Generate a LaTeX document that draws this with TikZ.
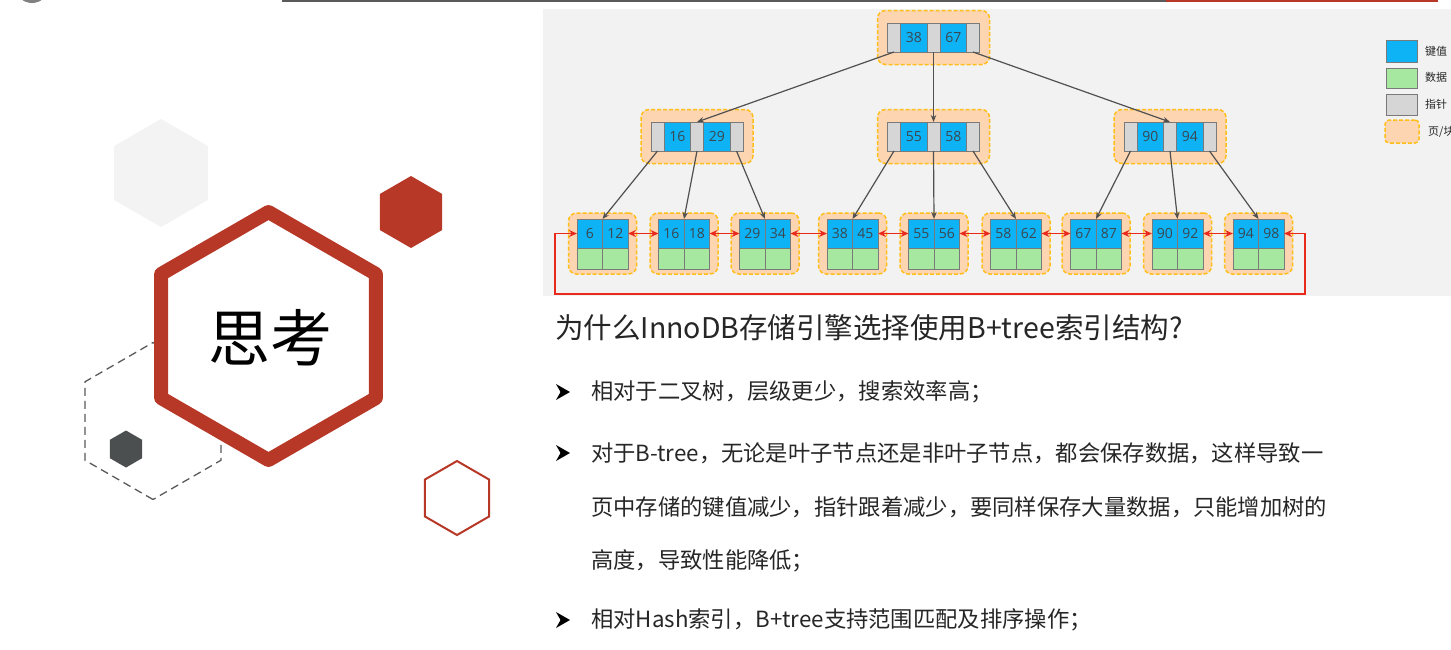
\documentclass[tikz,border=0pt]{standalone}
\usepackage{fontspec}
\setmainfont{Noto Sans CJK SC}
\newfontfamily\numfont{Open Sans}
\usetikzlibrary{arrows.meta}
\definecolor{keyblue}{HTML}{0DB3F4}
\definecolor{datagreen}{HTML}{A6E8A0}
\definecolor{ptrgray}{HTML}{D6D6D6}
\definecolor{cellline}{HTML}{7A7A7A}
\definecolor{pagefill}{HTML}{FDD5B1}
\definecolor{pageline}{HTML}{FFBE1A}
\definecolor{panelbg}{HTML}{F2F2F2}
\definecolor{hexred}{HTML}{B83828}
\definecolor{linkred}{HTML}{E8291C}
\definecolor{arrowgray}{HTML}{505050}
\definecolor{textdark}{HTML}{262626}
\definecolor{numdark}{HTML}{3C4650}
\definecolor{hexlight}{HTML}{F3F3F3}
\definecolor{hexdark}{HTML}{4B4F50}
\definecolor{dashgray}{HTML}{5A5A5A}
\tikzset{
  cell/.style={draw=cellline, line width=0.8, inner sep=0, outer sep=0, minimum height=29,
    font=\numfont\fontsize{14}{14}\selectfont, text=numdark},
  keycell/.style={cell, fill=keyblue, minimum width=26.5},
  ptrcell/.style={cell, fill=ptrgray, minimum width=13},
  lkey/.style={cell, fill=keyblue, minimum width=25.5},
  datacell/.style={cell, fill=datagreen, minimum width=25.5, minimum height=21},
  pagebox/.style={draw=pageline, fill=pagefill, dash pattern=on 4pt off 2pt, line width=1.5,
    rounded corners=8, inner sep=0, outer sep=0},
  treearrow/.style={draw=arrowgray, line width=1.2, -{Stealth[length=7,width=5.5]}},
  linkarrow/.style={draw=linkred, line width=1.6, {Stealth[length=8,width=7]}-{Stealth[length=8,width=7]}},
  legendtext/.style={anchor=west, inner sep=0, font=\fontsize{11}{11}\selectfont, text=textdark},
  titletext/.style={anchor=west, inner sep=0, font=\fontsize{28.5}{28.5}\selectfont, text=textdark},
  bodytext/.style={anchor=west, inner sep=0, font=\fontsize{22.3}{22.3}\selectfont, text=textdark},
  bulletmark/.style={fill=black},
}
\newcommand\inode[5]{%
  \node[pagebox, minimum width=112, minimum height=54] (#1-page) at (#2,#3) {};
  \node[ptrcell, anchor=west] (#1-p1) at ({#2-46},#3) {};
  \node[keycell, anchor=west] (#1-k1) at (#1-p1.east) {#4};
  \node[ptrcell, anchor=west] (#1-p2) at (#1-k1.east) {};
  \node[keycell, anchor=west] (#1-k2) at (#1-p2.east) {#5};
  \node[ptrcell, anchor=west] (#1-p3) at (#1-k2.east) {};
}
\newcommand\lnode[4]{%
  \node[pagebox, minimum width=68, minimum height=61] (#1-page) at (#2,243.5) {};
  \node[lkey, anchor=east] (#1-k1) at (#2,233.5) {#3};
  \node[lkey, anchor=west] (#1-k2) at (#2,233.5) {#4};
  \node[datacell, anchor=north] (#1-d1) at (#1-k1.south) {};
  \node[datacell, anchor=north] (#1-d2) at (#1-k2.south) {};
}
\newcommand\hexat[3]{(#1,#2) +(90:#3) -- +(150:#3) -- +(210:#3) -- +(270:#3) -- +(330:#3) -- +(30:#3) -- cycle}
\newcommand\bulletat[2]{\fill[bulletmark] (#1,#2) +(0,-8) -- +(14,0) -- +(0,8) -- +(4.5,0) -- cycle;}
\begin{document}
\begin{tikzpicture}[x=1pt,y=-1pt]
\useasboundingbox (0,0) rectangle (1451,649);
\clip (0,0) rectangle (1451,649);
\fill[white] (0,0) rectangle (1451,649);
% top decorations
\fill[gray] (32,-14) circle (17);
\draw[line width=2, color=dashgray] (282,0.5) -- (1166,0.5);
\draw[line width=2, color=hexred] (1166,0.5) -- (1438,0.5);
% left hexagons
\fill[hexlight] \hexat{161}{173}{54};
\draw[dashgray, line width=1.3, dash pattern=on 8pt off 5pt] \hexat{153}{421}{78.5};
\fill[hexdark] \hexat{126}{449}{18.5};
\draw[hexred, fill=white, line width=14, line join=round] \hexat{268.5}{336}{124};
\fill[hexred] \hexat{411}{212}{36};
\draw[hexred, line width=2] \hexat{457}{498}{37};
\node[inner sep=0, font=\fontsize{62}{62}\selectfont, text=black] (think) at (270,338) {思考};
% tree panel
\fill[panelbg] (543,9) rectangle (1451,296);
\inode{r}{933.5}{37.5}{38}{67}
\inode{a}{697}{136.5}{16}{29}
\inode{b}{933.5}{136.5}{55}{58}
\inode{c}{1170}{136.5}{90}{94}
\lnode{l1}{602.5}{6}{12}
\lnode{l2}{684}{16}{18}
\lnode{l3}{765}{29}{34}
\lnode{l4}{852.5}{38}{45}
\lnode{l5}{934}{55}{56}
\lnode{l6}{1016}{58}{62}
\lnode{l7}{1096}{67}{87}
\lnode{l8}{1177.5}{90}{92}
\lnode{l9}{1258.5}{94}{98}
% tree arrows
\draw[treearrow] (r-p1.south) -- (a-p2.north);
\draw[treearrow] (r-p2.south) -- (b-p2.north);
\draw[treearrow] (r-p3.south) -- (c-p2.north);
\draw[treearrow] (a-p1.south) -- (l1-k1.north east);
\draw[treearrow] (a-p2.south) -- (l2-k1.north east);
\draw[treearrow] (a-p3.south) -- (l3-k1.north east);
\draw[treearrow] (b-p1.south) -- (l4-k1.north east);
\draw[treearrow] (b-p2.south) -- (l5-k1.north east);
\draw[treearrow] (b-p3.south) -- (l6-k1.north east);
\draw[treearrow] (c-p1.south) -- (l7-k1.north east);
\draw[treearrow] (c-p2.south) -- (l8-k1.north east);
\draw[treearrow] (c-p3.south) -- (l9-k1.north east);
% leaf links
\draw[linkarrow] (l1-k2.east) -- (l2-k1.west);
\draw[linkarrow] (l2-k2.east) -- (l3-k1.west);
\draw[linkarrow] (l3-k2.east) -- (l4-k1.west);
\draw[linkarrow] (l4-k2.east) -- (l5-k1.west);
\draw[linkarrow] (l5-k2.east) -- (l6-k1.west);
\draw[linkarrow] (l6-k2.east) -- (l7-k1.west);
\draw[linkarrow] (l7-k2.east) -- (l8-k1.west);
\draw[linkarrow] (l8-k2.east) -- (l9-k1.west);
\coordinate (loopR) at (1305,294);
\coordinate (loopL) at (555,294);
\draw[linkarrow] (l9-k2.east) -- (l9-k2.east -| loopR) -- (loopR) -- (loopL) -- (loopL |- l1-k1.west) -- (l1-k1.west);
% legend
\node[cell, fill=keyblue, minimum width=31, minimum height=22] (lg-key) at (1401.5,51) {};
\node[cell, fill=datagreen, minimum width=31, minimum height=20] (lg-data) at (1401.5,78) {};
\node[cell, fill=ptrgray, minimum width=31, minimum height=21] (lg-ptr) at (1401.5,104.5) {};
\node[pagebox, minimum width=34, minimum height=23, rounded corners=4] (lg-page) at (1402,131.5) {};
\node[legendtext] (lg-keyt) at (1425,51) {键值};
\node[legendtext] (lg-datat) at (1425,77) {数据};
\node[legendtext] (lg-ptrt) at (1425,104) {指针};
\node[legendtext] (lg-paget) at (1428,131.5) {页/块};
% text
\node[titletext] (title) at (555,328) {为什么InnoDB存储引擎选择使用B+tree索引结构?};
\bulletat{556}{392}
\node[bodytext] (t1) at (591,392) {相对于二叉树，层级更少，搜索效率高；};
\bulletat{556}{453}
\node[bodytext] (t2) at (591,453) {对于B-tree，无论是叶子节点还是非叶子节点，都会保存数据，这样导致一};
\node[bodytext] (t3) at (591,507) {页中存储的键值减少，指针跟着减少，要同样保存大量数据，只能增加树的};
\node[bodytext] (t4) at (591,561) {高度，导致性能降低；};
\bulletat{556}{620}
\node[bodytext] (t5) at (591,620) {相对Hash索引，B+tree支持范围匹配及排序操作；};
\end{tikzpicture}
\end{document}
